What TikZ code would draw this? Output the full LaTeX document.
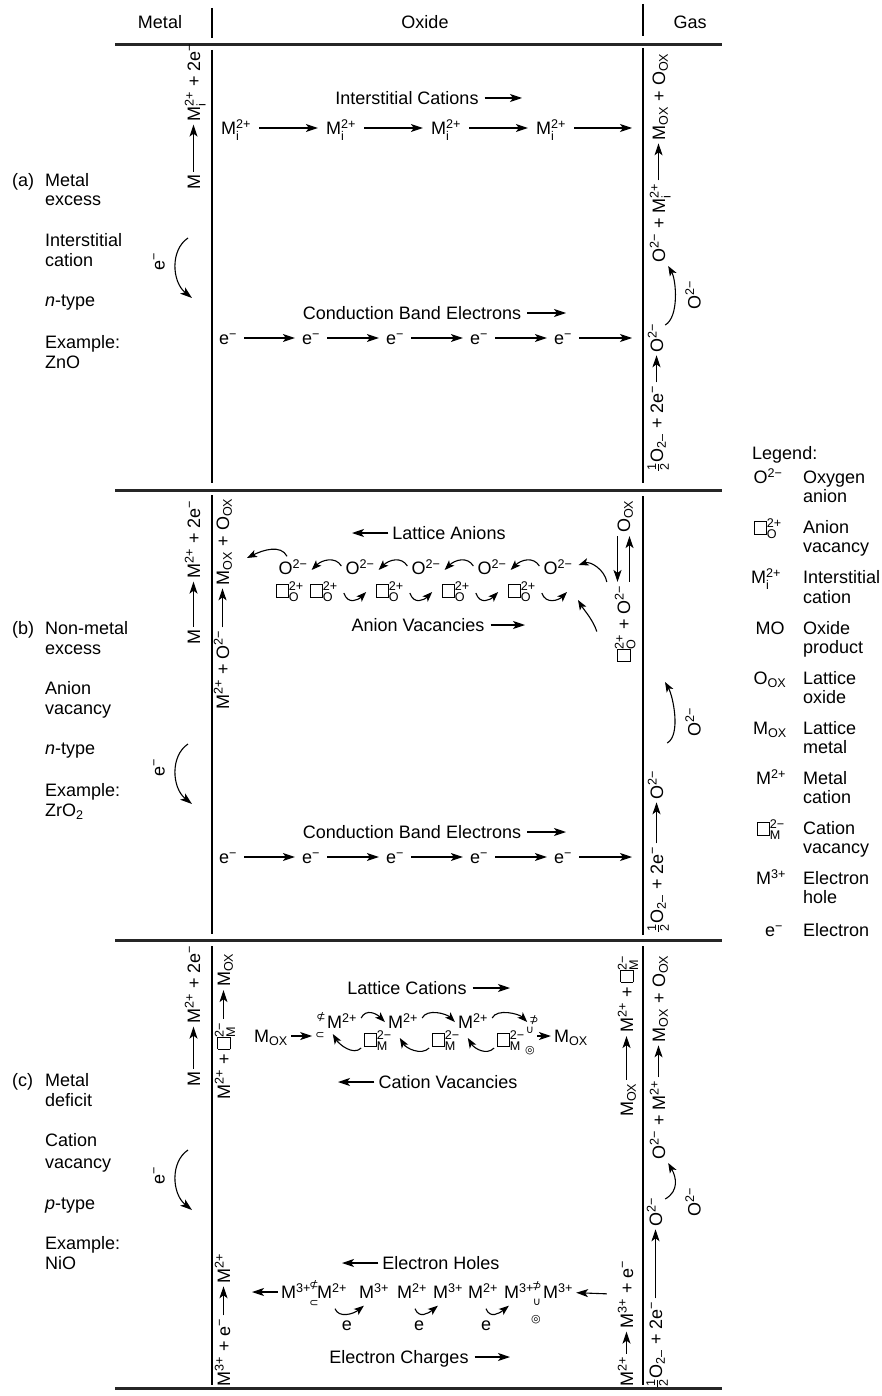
\documentclass[tikz,border=0pt]{standalone}
\usepackage{amsmath}
\usepackage{fontspec}
\setmainfont{Liberation Sans}
\newfontfamily\symf{DejaVu Sans}
\usetikzlibrary{arrows.meta}
\newcommand{\upx}[1]{\ensuremath{^{\text{#1}}}}
\newcommand{\dnx}[1]{\ensuremath{_{\text{#1}}}}
\newcommand{\updn}[2]{\ensuremath{^{\text{#1}}_{\text{#2}}}}
\newcommand{\sqv}{{\setlength{\fboxsep}{0pt}\setlength{\fboxrule}{0.7pt}\fbox{\rule{0pt}{12pt}\hspace{11pt}}}}
\newcommand{\vacO}{\sqv\updn{2+}{O}}
\newcommand{\vacM}{\sqv\updn{2−}{M}}
\newcommand{\half}{\ensuremath{\tfrac{\text{1}}{\text{2}}}}
\begin{document}
\begin{tikzpicture}[x=1pt,y=-1pt,
 every node/.style={inner sep=0pt,text height=13pt,text depth=0pt,font=\fontsize{18}{19.5}\selectfont},
 rot/.style={rotate=90},
 arr/.style={-{Stealth[length=12pt,width=8pt,inset=3pt]},line width=1.1pt,shorten <=3pt,shorten >=3pt},
 rarr/.style={arr,shorten <=8pt,shorten >=8pt},
 earr/.style={arr,shorten <=7pt,shorten >=7pt},
 sarr/.style={-{Stealth[length=10pt,width=7.5pt,inset=2.5pt]},line width=1.1pt},
 vline/.style={line width=1.2pt},
 hrule/.style={line width=3pt,black!85},
 gly/.style={font=\symf\fontsize{11}{11}\selectfont,text height=7pt}]
\fill[white] (0,0) rectangle (881,1396);
\useasboundingbox (0,0) rectangle (881,1396);

% ---------- header and frame ----------
\node (hMetal) at (160,22) {Metal};
\node (hOxide) at (425,22) {Oxide};
\node (hGas) at (690,22) {Gas};
\draw[vline] (212,8) -- (212,38);
\draw[vline] (643,4) -- (643,36);
\draw[hrule] (115,45) -- (722,45);
\draw[hrule] (115,490) -- (722,490);
\draw[hrule] (115,940) -- (722,940);
\draw[hrule] (115,1388) -- (722,1388);
\draw[vline] (212,50) -- (212,483);
\draw[vline] (643,48) -- (643,483);
\draw[vline] (212,495) -- (212,934);
\draw[vline] (643,496) -- (643,935);
\draw[vline] (212,946) -- (212,1385);
\draw[vline] (643,946) -- (643,1385);

% ---------- left labels ----------
\node[anchor=west] (pa) at (12,180) {(a)};
\node[anchor=west] (la1) at (45,180) {Metal};
\node[anchor=west] (la2) at (45,199) {excess};
\node[anchor=west] (la3) at (45,240) {Interstitial};
\node[anchor=west] (la4) at (45,260) {cation};
\node[anchor=west] (la5) at (45,300) {\textit{n}-type};
\node[anchor=west] (la6) at (45,342) {Example:};
\node[anchor=west] (la7) at (45,362) {ZnO};

\node[anchor=west] (pb) at (12,628) {(b)};
\node[anchor=west] (lb1) at (45,628) {Non-metal};
\node[anchor=west] (lb2) at (45,648) {excess};
\node[anchor=west] (lb3) at (45,688) {Anion};
\node[anchor=west] (lb4) at (45,708) {vacancy};
\node[anchor=west] (lb5) at (45,748) {\textit{n}-type};
\node[anchor=west] (lb6) at (45,790) {Example:};
\node[anchor=west] (lb7) at (45,810) {ZrO\dnx{2}};

\node[anchor=west] (pc) at (12,1080) {(c)};
\node[anchor=west] (lc1) at (45,1080) {Metal};
\node[anchor=west] (lc2) at (45,1100) {deficit};
\node[anchor=west] (lc3) at (45,1140) {Cation};
\node[anchor=west] (lc4) at (45,1162) {vacancy};
\node[anchor=west] (lc5) at (45,1203) {\textit{p}-type};
\node[anchor=west] (lc6) at (45,1243) {Example:};
\node[anchor=west] (lc7) at (45,1263) {NiO};

% electron arcs on the metal side
\coordinate (eA1) at (188,238); \coordinate (eA2) at (192,298);
\draw[arr,shorten <=0pt,shorten >=0pt] (eA1) .. controls +(-18,12) and +(-20,-16) .. (eA2);
\node[rot] (eAl) at (158,262) {e\upx{−}};
\coordinate (eB1) at (188,744); \coordinate (eB2) at (192,804);
\draw[arr,shorten <=0pt,shorten >=0pt] (eB1) .. controls +(-18,12) and +(-20,-16) .. (eB2);
\node[rot] (eBl) at (158,768) {e\upx{−}};
\coordinate (eC1) at (188,1150); \coordinate (eC2) at (192,1210);
\draw[arr,shorten <=0pt,shorten >=0pt] (eC1) .. controls +(-18,12) and +(-20,-16) .. (eC2);
\node[rot] (eCl) at (158,1176) {e\upx{−}};

% ================= (a) =================
\node[rot,anchor=base west] (aL1) at (200,190) {M};
\node[rot,anchor=base east] (aL2) at (200,43) {M\updn{2+}{i} + 2e\upx{−}};
\draw[arr] (aL1.east) -- (aL1.east |- aL2.west);

\node (aT1) at (407,98) {Interstitial Cations};
\coordinate (aT1e) at (522,98);
\draw[arr,shorten <=6pt,shorten >=0pt] (aT1) -- (aT1e);
\node (am1) at (236,128) {M\updn{2+}{i}};
\node (am2) at (341,128) {M\updn{2+}{i}};
\node (am3) at (446,128) {M\updn{2+}{i}};
\node (am4) at (551,128) {M\updn{2+}{i}};
\coordinate (amE) at (632,128);
\draw[rarr] (am1) -- (am2);
\draw[rarr] (am2) -- (am3);
\draw[rarr] (am3) -- (am4);
\draw[rarr,shorten >=0pt] (am4) -- (amE);

\node (aT2) at (412,313) {Conduction Band Electrons};
\coordinate (aT2e) at (566,313);
\draw[arr,shorten <=6pt,shorten >=0pt] (aT2) -- (aT2e);
\node (ae1) at (228,338) {e\upx{−}};
\node (ae2) at (311,338) {e\upx{−}};
\node (ae3) at (395,338) {e\upx{−}};
\node (ae4) at (479,338) {e\upx{−}};
\node (ae5) at (563,338) {e\upx{−}};
\coordinate (aeE) at (632,338);
\draw[earr] (ae1) -- (ae2);
\draw[earr] (ae2) -- (ae3);
\draw[earr] (ae3) -- (ae4);
\draw[earr] (ae4) -- (ae5);
\draw[earr,shorten >=0pt] (ae5) -- (aeE);

\node[rot,anchor=base west] (aR1) at (665,263) {O\upx{2−} + M\updn{2+}{i}};
\node[rot,anchor=base east] (aR2) at (665,53) {M\dnx{OX} + O\dnx{OX}};
\draw[arr] (aR1.east) -- (aR1.east |- aR2.west);
\node[rot,anchor=base west] (aR3) at (663,472) {\half O\dnx{2–} + 2e\upx{−}};
\node[rot,anchor=base east] (aR4) at (663,323) {O\upx{2−}};
\draw[arr] (aR3.east) -- (aR3.east |- aR4.west);
\draw[sarr] ([shift={(2,2)}]aR4.south east) .. controls +(14,-8) and +(8,14) .. ([shift={(3,3)}]aR1.south west);
\node[rot] (aRl) at (694,295) {O\upx{2−}};

% ================= (b) =================
\node[rot,anchor=base west] (bL1) at (200,645) {M};
\node[rot,anchor=base east] (bL2) at (200,500) {M\upx{2+} + 2e\upx{−}};
\draw[arr] (bL1.east) -- (bL1.east |- bL2.west);
\node[rot,anchor=base west] (bL3) at (229,710) {M\upx{2+} + O\upx{2−}};
\node[rot,anchor=base east] (bL4) at (229,498) {M\dnx{OX} + O\dnx{OX}};
\draw[arr] (bL3.east) -- (bL3.east |- bL4.west);

\node (bT1) at (449,533) {Lattice Anions};
\coordinate (bT1w) at (352,533);
\draw[arr,shorten <=4pt,shorten >=0pt] (bT1) -- (bT1w);
\node (bo1) at (293,568) {O\upx{2−}};
\node (bo2) at (360,568) {O\upx{2−}};
\node (bo3) at (426,568) {O\upx{2−}};
\node (bo4) at (492,568) {O\upx{2−}};
\node (bo5) at (558,568) {O\upx{2−}};
\coordinate (bTipL) at (247,558);
\draw[sarr] ([shift={(-6,-5)}]bo1.north) .. controls +(-6,-12) and +(16,-8) .. (bTipL);
\draw[sarr] ([shift={(-4,-2)}]bo2.west) .. controls +(-6,-10) and +(10,-10) .. ([shift={(4,2)}]bo1.east);
\draw[sarr] ([shift={(-4,-2)}]bo3.west) .. controls +(-6,-10) and +(10,-10) .. ([shift={(4,2)}]bo2.east);
\draw[sarr] ([shift={(-4,-2)}]bo4.west) .. controls +(-6,-10) and +(10,-10) .. ([shift={(4,2)}]bo3.east);
\draw[sarr] ([shift={(-4,-2)}]bo5.west) .. controls +(-6,-10) and +(10,-10) .. ([shift={(4,2)}]bo4.east);

\node (bv1) at (290,590) {\vacO};
\node (bv2) at (324,590) {\vacO};
\node (bv3) at (390,590) {\vacO};
\node (bv4) at (456,590) {\vacO};
\node (bv5) at (522,590) {\vacO};
\coordinate (bTipV) at (567,592);
\draw[sarr] ([shift={(6,3)}]bv2.east) .. controls +(4,12) and +(-8,8) .. ([shift={(-10,2)}]bv3.west);
\draw[sarr] ([shift={(6,3)}]bv3.east) .. controls +(4,12) and +(-8,8) .. ([shift={(-10,2)}]bv4.west);
\draw[sarr] ([shift={(6,3)}]bv4.east) .. controls +(4,12) and +(-8,8) .. ([shift={(-10,2)}]bv5.west);
\draw[sarr] ([shift={(6,3)}]bv5.east) .. controls +(4,12) and +(-8,8) .. (bTipV);

\node (bT2) at (418,625) {Anion Vacancies};
\coordinate (bT2e) at (525,625);
\draw[arr,shorten <=6pt,shorten >=0pt] (bT2) -- (bT2e);

\node[rot,anchor=base west] (bR1) at (630,662) {\vacO{} + O\upx{2−}};
\node[rot,anchor=base east] (bR2) at (630,500) {O\dnx{OX}};
\draw[arr] ([xshift=-6pt]bR2.west) -- ([xshift=-6pt]bR1.east);
\draw[arr] ([xshift=6pt]bR1.east) -- ([xshift=6pt]bR2.west);
\draw[sarr] ([shift={(-10,-3)}]bR1.north east) .. controls +(-2,-12) and +(12,-4) .. ([shift={(6,-3)}]bo5.east);
\coordinate (bTipR) at (578,600);
\draw[sarr] ([shift={(-20,8)}]bR1.north) .. controls +(-4,-12) and +(6,10) .. (bTipR);

\node (bT3) at (412,832) {Conduction Band Electrons};
\coordinate (bT3e) at (566,832);
\draw[arr,shorten <=6pt,shorten >=0pt] (bT3) -- (bT3e);
\node (be1) at (228,857) {e\upx{−}};
\node (be2) at (311,857) {e\upx{−}};
\node (be3) at (395,857) {e\upx{−}};
\node (be4) at (479,857) {e\upx{−}};
\node (be5) at (563,857) {e\upx{−}};
\coordinate (beE) at (632,857);
\draw[earr] (be1) -- (be2);
\draw[earr] (be2) -- (be3);
\draw[earr] (be3) -- (be4);
\draw[earr] (be4) -- (be5);
\draw[earr,shorten >=0pt] (be5) -- (beE);

\node[rot,anchor=base west] (bR3) at (663,933) {\half O\dnx{2–} + 2e\upx{−}};
\node[rot,anchor=base east] (bR4) at (663,770) {O\upx{2−}};
\draw[arr] (bR3.east) -- (bR3.east |- bR4.west);
\coordinate (bTipO) at (665,682);
\draw[sarr] ([shift={(4,-27)}]bR4.south east) .. controls +(14,-8) and +(8,14) .. (bTipO);
\node[rot] (bRl) at (694,722) {O\upx{2−}};

% ================= (c) =================
\node[rot,anchor=base west] (cL1) at (200,1087) {M};
\node[rot,anchor=base east] (cL2) at (200,945) {M\upx{2+} + 2e\upx{−}};
\draw[arr] (cL1.east) -- (cL1.east |- cL2.west);
\node[rot,anchor=base west] (cL3) at (230,1100) {M\upx{2+} + \vacM};
\node[rot,anchor=base east] (cL4) at (230,953) {M\dnx{OX}};
\draw[arr] (cL3.east) -- (cL3.east |- cL4.west);
\node[rot,anchor=base west] (cL5) at (230,1387) {M\upx{3+} + e\upx{−}};
\node[rot,anchor=base east] (cL6) at (230,1253) {M\upx{2+}};
\draw[arr] (cL5.east) -- (cL5.east |- cL6.west);

\node (cT1) at (407,988) {Lattice Cations};
\coordinate (cT1e) at (510,988);
\draw[arr,shorten <=6pt,shorten >=0pt] (cT1) -- (cT1e);
\node[gly] (cg1) at (321,1017) {⊄};
\node (cc1) at (342,1022) {M\upx{2+}};
\node (cc2) at (403,1022) {M\upx{2+}};
\node (cc3) at (473,1022) {M\upx{2+}};
\node[gly] (cg2) at (534,1020) {⊅};
\draw[sarr] ([shift={(4,-4)}]cc1.east) .. controls +(5,-10) and +(-8,-8) .. ([shift={(-3,0)}]cc2.west);
\draw[sarr] ([shift={(4,-4)}]cc2.east) .. controls +(5,-10) and +(-8,-8) .. ([shift={(-3,0)}]cc3.west);
\draw[sarr] ([shift={(4,-4)}]cc3.east) .. controls +(5,-10) and +(-8,-8) .. ([shift={(-2,2)}]cg2.west);

\node (cmo1) at (271,1036) {M\dnx{OX}};
\node[gly] (cg3) at (320,1035) {⊂};
\draw[arr] (cmo1.east) -- (cmo1.east -| cg3.west);
\node (cw1) at (378,1039) {\vacM};
\node (cw2) at (446,1039) {\vacM};
\node (cw3) at (511,1039) {\vacM};
\draw[sarr] ([shift={(-3,9)}]cw1.west) .. controls +(-8,8) and +(6,10) .. ([shift={(8,-1)}]cg3.east);
\draw[sarr] ([shift={(-3,9)}]cw2.west) .. controls +(-8,8) and +(6,10) .. ([shift={(8,-1)}]cw1.east);
\draw[sarr] ([shift={(-3,9)}]cw3.west) .. controls +(-8,8) and +(6,10) .. ([shift={(8,-1)}]cw2.east);
\node[gly] (cgU) at (530,1030) {∪};
\node[gly] (cgO) at (530,1050) {◎};
\node (cmo2) at (571,1036) {M\dnx{OX}};
\draw[arr] (cgU.east |- cmo2.west) -- (cmo2.west);

\node (cT2) at (448,1082) {Cation Vacancies};
\coordinate (cT2w) at (338,1082);
\draw[arr,shorten <=4pt,shorten >=0pt] (cT2) -- (cT2w);

\node (cT3) at (441,1263) {Electron Holes};
\coordinate (cT3w) at (342,1263);
\draw[arr,shorten <=4pt,shorten >=0pt] (cT3) -- (cT3w);

\node (ct1) at (296,1292) {M\upx{3+}};
\node[gly] (cg4) at (314,1285) {⊄};
\node[gly] (cg5) at (314,1303) {⊂};
\node (ct2) at (332,1292) {M\upx{2+}};
\node (ct3) at (374,1292) {M\upx{3+}};
\node (ct4) at (412,1292) {M\upx{2+}};
\node (ct5) at (448,1292) {M\upx{3+}};
\node (ct6) at (483,1292) {M\upx{2+}};
\node (ct7) at (519,1292) {M\upx{3+}};
\node[gly] (cg6) at (537,1286) {⊅};
\node[gly] (cg7) at (537,1302) {∪};
\node[gly] (cg8) at (536,1319) {◎};
\node (ct8) at (558,1292) {M\upx{3+}};
\coordinate (cTL) at (252,1292);
\draw[arr,shorten <=3pt,shorten >=0pt] (ct1) -- (cTL);
\draw[sarr] ([shift={(3,10)}]ct2.south) .. controls +(4,10) and +(-10,8) .. ([shift={(5,7)}]ct3.south west);
\draw[sarr] ([shift={(3,10)}]ct4.south) .. controls +(4,10) and +(-10,8) .. ([shift={(5,7)}]ct5.south west);
\draw[sarr] ([shift={(3,10)}]ct6.south) .. controls +(4,10) and +(-10,8) .. ([shift={(5,7)}]ct7.south west);
\node (cel1) at (347,1324) {e};
\node (cel2) at (419,1324) {e};
\node (cel3) at (486,1324) {e};

\node (cT4) at (399,1357) {Electron Charges};
\coordinate (cT4e) at (510,1357);
\draw[arr,shorten <=6pt,shorten >=0pt] (cT4) -- (cT4e);

\node[rot,anchor=base west] (cR1) at (633,1117) {M\dnx{OX}};
\node[rot,anchor=base east] (cR2) at (633,955) {M\upx{2+} + \vacM};
\draw[arr] (cR1.east) -- (cR1.east |- cR2.west);
\node[rot,anchor=base west] (cR3) at (633,1387) {M\upx{2+}};
\node[rot,anchor=base east] (cR4) at (633,1260) {M\upx{3+} + e\upx{−}};
\draw[arr] (cR3.east) -- (cR3.east |- cR4.west);
\draw[arr,shorten <=13pt] (cR4.north) -- (ct8);

\node[rot,anchor=base west] (cR5) at (665,1160) {O\upx{2−} + M\upx{2+}};
\node[rot,anchor=base east] (cR6) at (665,955) {M\dnx{OX} + O\dnx{OX}};
\draw[arr] (cR5.east) -- (cR5.east |- cR6.west);
\node[rot,anchor=base west] (cR7) at (662,1388) {\half O\dnx{2–} + 2e\upx{−}};
\node[rot,anchor=base east] (cR8) at (662,1197) {O\upx{2−}};
\draw[arr] (cR7.east) -- (cR7.east |- cR8.west);
\draw[sarr] ([shift={(3,2)}]cR8.south east) .. controls +(14,-8) and +(8,14) .. ([shift={(3,3)}]cR5.south west);
\node[rot] (cRl) at (694,1202) {O\upx{2−}};

% ================= legend =================
\node[anchor=west] (lg) at (752,453) {Legend:};
\node (s1) at (768,477) {O\upx{2−}};
\node[anchor=west] (d1a) at (803,477) {Oxygen};
\node[anchor=west] (d1b) at (803,496) {anion};
\node (s2) at (768,527) {\vacO};
\node[anchor=west] (d2a) at (803,527) {Anion};
\node[anchor=west] (d2b) at (803,546) {vacancy};
\node (s3) at (766,577) {M\updn{2+}{i}};
\node[anchor=west] (d3a) at (803,577) {Interstitial};
\node[anchor=west] (d3b) at (803,597) {cation};
\node (s4) at (770,628) {MO};
\node[anchor=west] (d4a) at (803,628) {Oxide};
\node[anchor=west] (d4b) at (803,647) {product};
\node (s5) at (770,678) {O\dnx{OX}};
\node[anchor=west] (d5a) at (803,678) {Lattice};
\node[anchor=west] (d5b) at (803,697) {oxide};
\node (s6) at (770,728) {M\dnx{OX}};
\node[anchor=west] (d6a) at (803,728) {Lattice};
\node[anchor=west] (d6b) at (803,747) {metal};
\node (s7) at (771,778) {M\upx{2+}};
\node[anchor=west] (d7a) at (803,778) {Metal};
\node[anchor=west] (d7b) at (803,797) {cation};
\node (s8) at (771,828) {\vacM};
\node[anchor=west] (d8a) at (803,828) {Cation};
\node[anchor=west] (d8b) at (803,847) {vacancy};
\node (s9) at (771,878) {M\upx{3+}};
\node[anchor=west] (d9a) at (803,878) {Electron};
\node[anchor=west] (d9b) at (803,897) {hole};
\node (s10) at (774,930) {e\upx{−}};
\node[anchor=west] (d10a) at (803,930) {Electron};
\end{tikzpicture}
\end{document}
